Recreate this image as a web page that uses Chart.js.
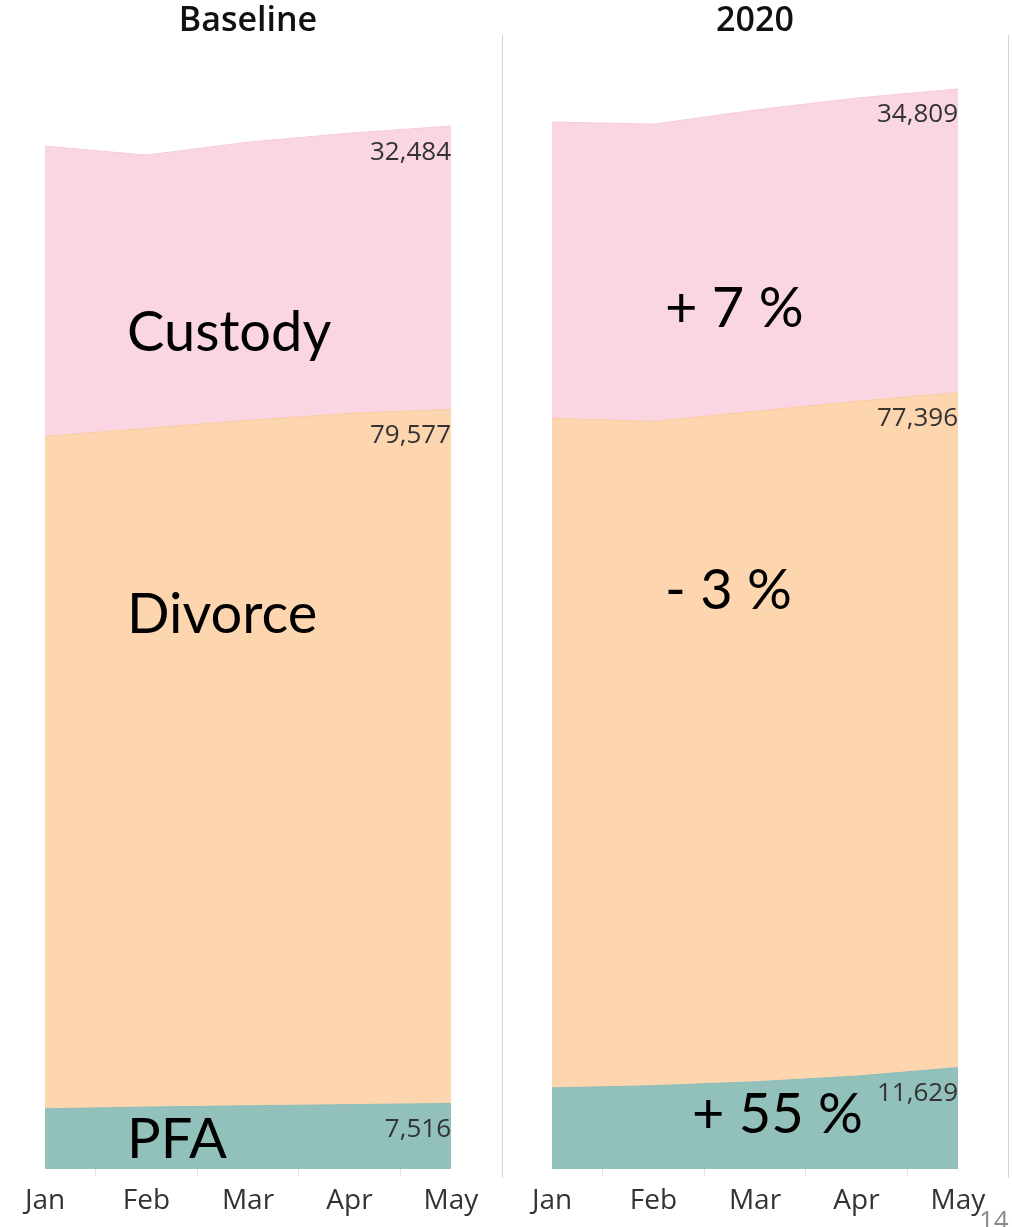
<!DOCTYPE html>
<html>
<head>
<meta charset="utf-8">
<script src="https://cdn.jsdelivr.net/npm/chart.js@4/dist/chart.umd.min.js"></script>
<style>
  html, body { margin: 0; padding: 0; background: #fff; }
  #wrap { position: relative; width: 1012px; height: 1227px; overflow: hidden; }
  canvas { position: absolute; top: 0; }
  #cBase { left: 0; }
  #c2020 { left: 502px; }
  .divider { position: absolute; top: 35px; width: 1px; height: 1143px; background: #d4d4d4; }
  #pageNo { position: absolute; left: 979px; top: 1201px; font: 26px "Open Sans", sans-serif; color: #8a8a8a; }
</style>
</head>
<body>
<div id="wrap">
  <canvas id="cBase" width="502" height="1227"></canvas>
  <canvas id="c2020" width="506" height="1227"></canvas>
  <div class="divider" style="left:502px"></div>
  <div class="divider" style="left:1008px"></div>
  <div id="pageNo">14</div>
</div>
<script>
var months = ['Jan', 'Feb', 'Mar', 'Apr', 'May'];

// Baseline (monthly counts)
var basePFA     = [6900, 7100, 7250, 7380, 7516];
var baseDivorce = [77100, 77820, 78590, 79260, 79577];
var baseCustody = [33280, 31330, 31900, 32130, 32484];

// 2020
var pfa2020     = [9300, 9550, 10000, 10650, 11629];
var divorce2020 = [76770, 76170, 76870, 77370, 77396];
var custody2020 = [33970, 34080, 34540, 34770, 34809];

var yMax = 130000;

var colPFA = '#92c1bc', colDivorce = '#fdd6b0', colCustody = '#fad6e2';

// value label under the stack top at the last month
var endLabels = {
    id: 'endLabels',
    afterDatasetsDraw: function(chart) {
        var ctx = chart.ctx;
        var area = chart.chartArea;
        ctx.save();
        ctx.font = '26px "Open Sans", sans-serif';
        ctx.fillStyle = '#333';
        ctx.textAlign = 'right';
        ctx.textBaseline = 'middle';
        chart.data.datasets.forEach(function(ds, i) {
            var pts = chart.getDatasetMeta(i).data;
            var last = pts[pts.length - 1];
            var v = ds.data[ds.data.length - 1];
            ctx.fillText(v.toLocaleString('en-US'), area.right, last.y + 26);
        });
        ctx.restore();
    }
};

// big annotation text
var bigText = {
    id: 'bigText',
    afterDraw: function(chart, args, opts) {
        var ctx = chart.ctx;
        ctx.save();
        ctx.font = '56px Lato, sans-serif';
        ctx.fillStyle = '#000';
        ctx.textAlign = 'left';
        ctx.textBaseline = 'alphabetic';
        (opts.items || []).forEach(function(it) {
            ctx.fillText(it.text, it.x, it.y);
        });
        ctx.restore();
    }
};

function makeChart(id, title, pfa, divorce, custody, padL, padR, notes) {
    return new Chart(document.getElementById(id), {
        type: 'line',
        data: {
            labels: months,
            datasets: [{
                label: 'PFA',
                data: pfa,
                fill: 'origin',
                backgroundColor: colPFA,
                borderColor: '#8cbcb6',
                borderWidth: 1
            }, {
                label: 'Divorce',
                data: divorce,
                fill: '-1',
                backgroundColor: colDivorce,
                borderColor: '#fbcba0',
                borderWidth: 1
            }, {
                label: 'Custody',
                data: custody,
                fill: '-1',
                backgroundColor: colCustody,
                borderColor: '#f7cbd9',
                borderWidth: 1
            }]
        },
        options: {
            responsive: false,
            animation: false,
            devicePixelRatio: 1,
            layout: { padding: { left: padL, right: padR, top: 0, bottom: 0 } },
            elements: { point: { radius: 0 }, line: { tension: 0 } },
            plugins: {
                legend: { display: false },
                tooltip: { enabled: false },
                title: {
                    display: true,
                    text: title,
                    color: '#111',
                    font: { family: '"Open Sans", sans-serif', size: 34, weight: '600', lineHeight: 0.8 },
                    padding: { top: 8, bottom: 0 }
                },
                bigText: { items: notes }
            },
            scales: {
                x: {
                    offset: false,
                    border: { display: false },
                    grid: { offset: true, drawOnChartArea: false, drawTicks: true, tickLength: 7, color: '#e3e3e3' },
                    ticks: {
                        color: '#333',
                        padding: 8,
                        maxRotation: 0,
                        font: { family: '"Open Sans", sans-serif', size: 28 }
                    },
                    afterFit: function(s) { s.height = 58; }
                },
                y: {
                    display: false,
                    stacked: true,
                    min: 0,
                    max: yMax
                }
            }
        },
        plugins: [endLabels, bigText]
    });
}

makeChart('cBase', 'Baseline', basePFA, baseDivorce, baseCustody, 45, 51, [
    { text: 'Custody', x: 127, y: 351 },
    { text: 'Divorce', x: 127, y: 633 },
    { text: 'PFA', x: 127, y: 1158 }
]);

makeChart('c2020', '2020', pfa2020, divorce2020, custody2020, 50, 50, [
    { text: '+ 7 %', x: 163, y: 327 },
    { text: '- 3 %', x: 163, y: 609 },
    { text: '+ 55 %', x: 190, y: 1133 }
]);
</script>
</body>
</html>
